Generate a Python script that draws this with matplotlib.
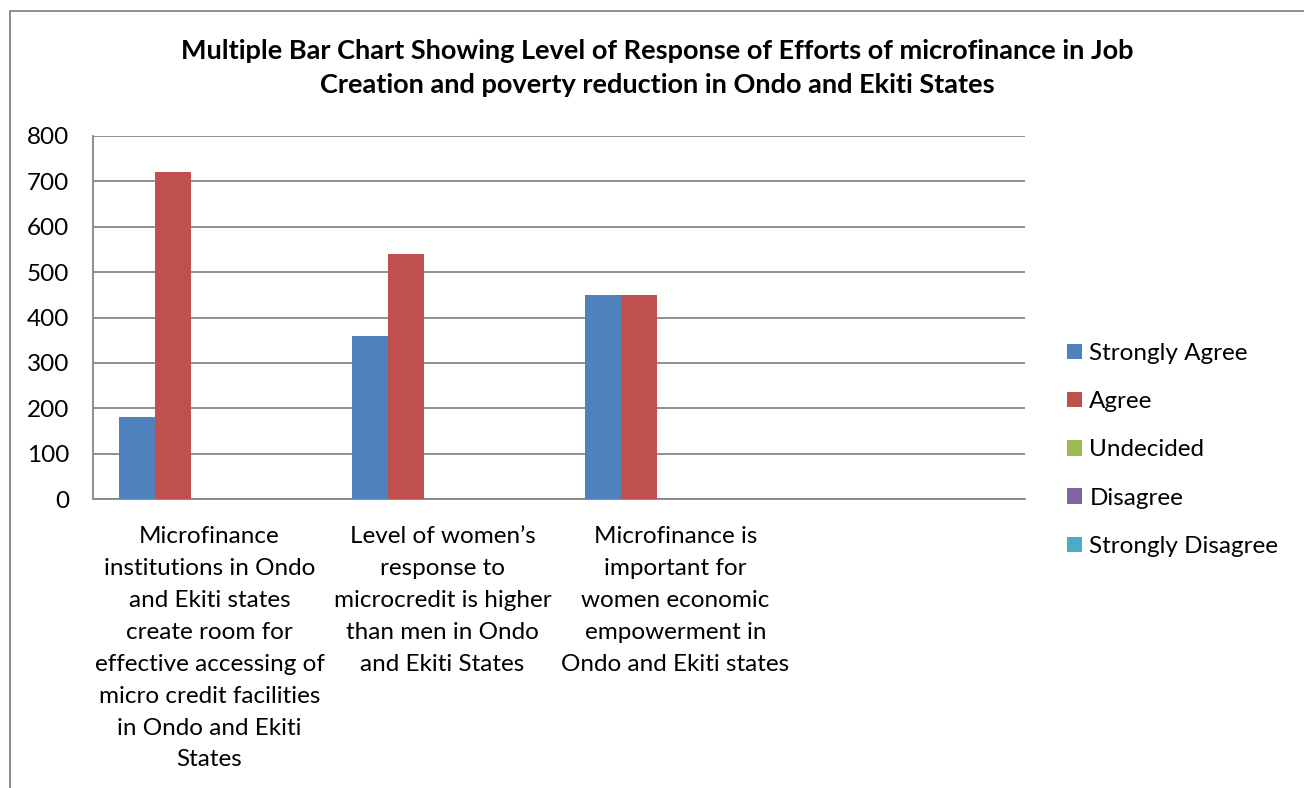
import matplotlib.pyplot as plt
from matplotlib.patches import Rectangle
import numpy as np

plt.rcParams['font.family'] = ['Lato', 'DejaVu Sans']

categories = [
    "Microfinance\ninstitutions in Ondo\nand Ekiti states\ncreate room for\neffective accessing of\nmicro credit facilities\nin Ondo and Ekiti\nStates",
    "Level of women\u2019s\nresponse to\nmicrocredit is higher\nthan men in Ondo\nand Ekiti States",
    "Microfinance is\nimportant for\nwomen economic\nempowerment in\nOndo and Ekiti states",
    "",
]
series = ["Strongly Agree", "Agree", "Undecided", "Disagree", "Strongly Disagree"]
strongly_agree = [180, 360, 450, 0]
agree = [720, 540, 450, 0]
undecided = [0, 0, 0, 0]
disagree = [0, 0, 0, 0]
strongly_disagree = [0, 0, 0, 0]
colors = ["#4F81BD", "#C0504D", "#9BBB59", "#8064A2", "#4BACC6"]

values = [strongly_agree, agree, undecided, disagree, strongly_disagree]

fig = plt.figure(figsize=(13.04, 7.88), dpi=100)
ax = fig.add_axes([93/1304, 1 - 499/788, (1025 - 93)/1304, (499 - 136)/788])

x = np.arange(len(categories))
w = 0.155
for i, (name, vals) in enumerate(zip(series, values)):
    ax.bar(x + (i - 2) * w, vals, w, color=colors[i], label=name, zorder=3)

ax.set_xlim(-0.5, len(categories) - 0.5)
ax.set_ylim(0, 800)
ax.set_yticks(range(0, 801, 100))
ax.yaxis.grid(True, color="#868686", linewidth=1.3, zorder=0)
ax.set_axisbelow(True)
for s in ["top", "right"]:
    ax.spines[s].set_visible(False)
for s in ["left", "bottom"]:
    ax.spines[s].set_color("#868686")
    ax.spines[s].set_linewidth(1.3)
ax.tick_params(axis="y", length=0, labelsize=17.5, pad=17)
ax.tick_params(axis="x", length=0)
ax.set_xticks(x)
ax.set_xticklabels([])
for xi, lab in zip(x, categories):
    ax.text(xi, -60, lab, ha="center", va="top", fontsize=17.5,
            linespacing=1.64, transform=ax.transData)

leg = ax.legend(loc="center left", bbox_to_anchor=(1.022, 0.135), frameon=False,
                fontsize=17.5, handlelength=0.6, handleheight=0.6, handletextpad=0.3,
                labelspacing=1.12)

fig.text(0.504, 0.9137, "Multiple Bar Chart Showing Level of Response of Efforts of microfinance in Job\nCreation and poverty reduction in Ondo and Ekiti States",
         ha="center", va="center", fontsize=19.5, fontweight="bold", linespacing=1.49)

fig.patches.append(Rectangle((10/1304, -0.1), 1.2, 1 - 11/788 + 0.1, transform=fig.transFigure,
                             fill=False, edgecolor="#868686", linewidth=1.3))

fig.savefig("out.png", dpi=100)
